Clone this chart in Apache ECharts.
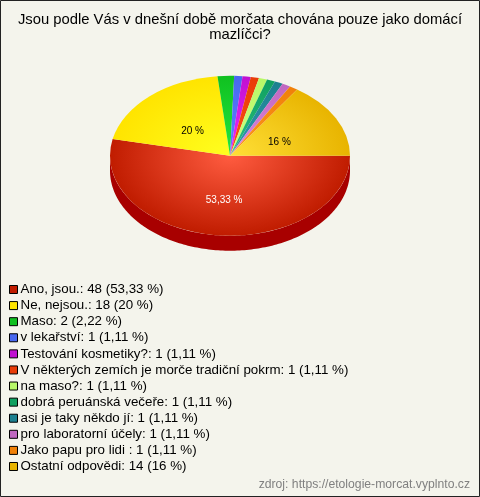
<!DOCTYPE html>
<html><head><meta charset="utf-8">
<style>html,body{margin:0;padding:0;background:#f4f4ec}#c{width:480px;height:497px}</style>
<script src="https://cdn.jsdelivr.net/npm/echarts@6/dist/echarts.min.js"></script>
</head><body><div id="c"></div>
<script>
const categories = ['Ano, jsou.','Ne, nejsou.','Maso','v lekařství','Testování kosmetiky?','V některých zemích je morče tradiční pokrm','na maso?','dobrá peruánská večeře','asi je taky někdo jí','pro laboratorní účely','Jako papu pro lidi ','Ostatní odpovědi'];
const values = [48,18,2,1,1,1,1,1,1,1,1,14];
const percentLabels = ['53,33','20','2,22','1,11','1,11','1,11','1,11','1,11','1,11','1,11','1,11','16'];
const edgeColors = ['#c01c00','#ffe400','#10c020','#4868f0','#c010d0','#e83c08','#b8f868','#10a060','#1c8090','#c068c0','#f08008','#e8b400'];
const innerColors = ['#ff5c40','#ffff20','#20e840','#6080ff','#f028ff','#ff5010','#d0ff80','#28c080','#3098b0','#e088e0','#ff9820','#ffe038'];
const labelColors = {0:'#fff',1:'#000',11:'#000'};

const total = values.reduce((a,b)=>a+b,0);
const CX=230, CY=155.7, RX=120, RY=80, DEPTH=15, SIDE='#a80000';
const starts=[]; values.reduce((acc,v,i)=>{starts[i]=acc;return acc+v/total*Math.PI*2;},0);

function sidePoints(a0,a1){
  const lo=Math.max(a0,0), hi=Math.min(a1,Math.PI);
  if(hi<=lo) return null;
  const top=[],bot=[];
  const n=Math.ceil((hi-lo)/0.02);
  for(let k=0;k<=n;k++){
    const a=lo+(hi-lo)*k/n;
    const x=CX+RX*Math.cos(a), y=CY+RY*Math.sin(a);
    top.push([x,y]); bot.unshift([x,y+DEPTH]);
  }
  return top.concat(bot);
}

const series = categories.map((name,i)=>({
  type:'custom', name, coordinateSystem:'none', silent:true, animation:false,
  itemStyle:{color:edgeColors[i]},
  data:[values[i]],
  renderItem(params,api){
    const a0=starts[i], a1=a0+api.value(0)/total*Math.PI*2, mid=(a0+a1)/2;
    const children=[];
    const pts=sidePoints(a0,a1);
    if(pts) children.push({type:'polygon',shape:{points:pts},style:{fill:SIDE}});
    children.push({type:'sector',x:CX,y:CY,scaleY:RY/RX,
      shape:{cx:0,cy:0,r:RX,r0:0,startAngle:a0,endAngle:a1,clockwise:true},
      style:{fill:{type:'radial',x:0,y:0,r:RX,global:true,
        colorStops:[{offset:0,color:innerColors[i]},{offset:1,color:edgeColors[i]}]}}});
    if(labelColors[i]) children.push({type:'text',z2:10,
      x:CX+56*Math.cos(mid),y:CY+5+40*Math.sin(mid),
      style:{text:percentLabels[i]+' %',fill:labelColors[i],font:'10px "Liberation Sans", Arial, sans-serif',align:'center',verticalAlign:'middle'}});
    return {type:'group',children};
  }
}));

const chart = echarts.init(document.getElementById('c'),null,{renderer:'canvas',width:480,height:497});
chart.setOption({
  animation:false,
  backgroundColor:'#f4f4ec',
  title:[
    {text:'Jsou podle Vás v dnešní době morčata chována pouze jako domácí\nmazlíčci?',left:235,top:7,textAlign:'center',
     textStyle:{fontFamily:'"Liberation Sans", Arial, sans-serif',fontSize:14.8,fontWeight:'normal',color:'#000',lineHeight:15}},
    {text:'zdroj: https://etologie-morcat.vyplnto.cz',right:5,top:474,
     textStyle:{fontFamily:'"Liberation Sans", Arial, sans-serif',fontSize:12.2,fontWeight:'normal',color:'#808080'}}
  ],
  legend:{orient:'vertical',left:9,top:283,itemWidth:8,itemHeight:8,itemGap:3.09,icon:'rect',selectedMode:false,padding:0,
    data:categories,
    itemStyle:{borderColor:'#000',borderWidth:1},
    textStyle:{fontFamily:'"Liberation Sans", Arial, sans-serif',fontSize:13.33,color:'#000',padding:[0,0,0,-2],lineHeight:12},
    formatter:n=>{const i=categories.indexOf(n);return n+': '+values[i]+' ('+percentLabels[i]+' %)';}},
  series,
  graphic:[{type:'rect',silent:true,shape:{x:0.5,y:0.5,width:479,height:496},style:{fill:'none',stroke:'#222',lineWidth:1},z:100}]
});
</script></body></html>
